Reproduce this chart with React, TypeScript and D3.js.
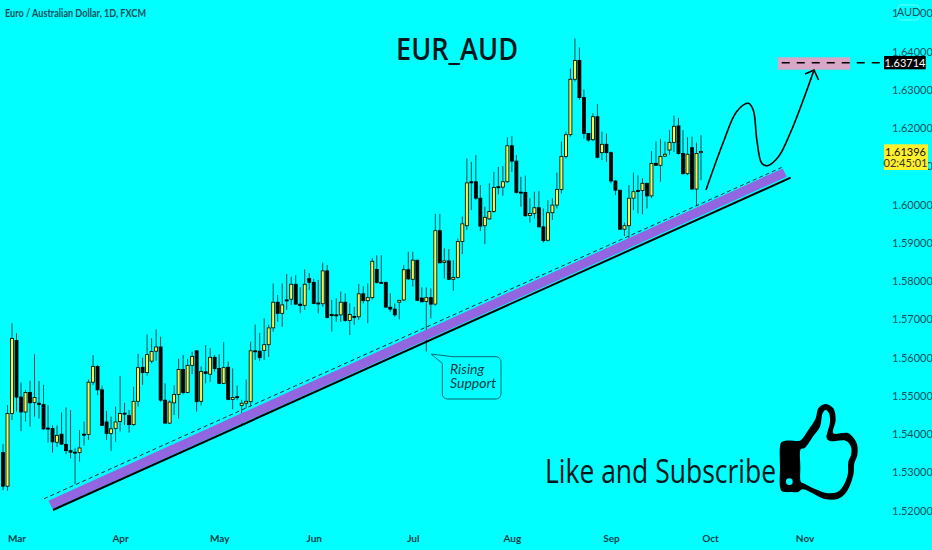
import { axisBottom, axisRight, curveCatmullRom, curveCatmullRomClosed, format, line, scaleLinear, select } from "d3";
import { useEffect, useRef } from "react";

const width = 932;
const height = 550;

const opens = [
  1.5352, 1.5264, 1.5454, 1.5645, 1.5497, 1.5458, 1.5509, 1.5483, 1.5481, 1.5478,
  1.5416, 1.5415, 1.5379, 1.54, 1.5373, 1.5357, 1.5353, 1.5352, 1.54, 1.5399,
  1.5536, 1.5577, 1.5516, 1.5432, 1.5402, 1.5415, 1.5433, 1.5455, 1.5449, 1.5425,
  1.5486, 1.5575, 1.5561, 1.5591, 1.5617, 1.5628, 1.5489, 1.5429, 1.5482, 1.5504,
  1.5569, 1.5509, 1.558, 1.5618, 1.5486, 1.5563, 1.5557, 1.5601, 1.5572, 1.5533,
  1.5575, 1.5491, 1.5498, 1.5475, 1.5481, 1.5485, 1.5618, 1.5617, 1.5619, 1.5634,
  1.5678, 1.5745, 1.5716, 1.5751, 1.5753, 1.5792, 1.574, 1.5737, 1.5807, 1.5797,
  1.5743, 1.5741, 1.5827, 1.5713, 1.5712, 1.5712, 1.5745, 1.5697, 1.5708, 1.5707,
  1.5767, 1.5749, 1.5757, 1.5831, 1.5797, 1.5797, 1.5732, 1.5727, 1.5745, 1.5751,
  1.583, 1.5805, 1.5855, 1.5756, 1.5747, 1.5757, 1.574, 1.5932, 1.5849, 1.5853,
  1.5805, 1.581, 1.5904, 1.5945, 1.606, 1.606, 1.6017, 1.5945, 1.5963, 1.5982,
  1.6047, 1.6046, 1.606, 1.6154, 1.6114, 1.6033, 1.6032, 1.5972, 1.5977, 1.5992,
  1.5942, 1.5907, 1.5979, 1.5999, 1.604, 1.6126, 1.6183, 1.6328, 1.6377, 1.628,
  1.6186, 1.617, 1.623, 1.6136, 1.6158, 1.6136, 1.6062, 1.6038, 1.5936, 1.5945,
  1.6017, 1.6037, 1.6037, 1.6056, 1.6023, 1.6108, 1.6103, 1.6127, 1.6143, 1.6163,
  1.6206, 1.6134, 1.6081, 1.6149, 1.6041, 1.6136,
];

const highs = [
  1.5374, 1.5476, 1.569, 1.5664, 1.5535, 1.5516, 1.554, 1.5609, 1.5539, 1.5529,
  1.5476, 1.5423, 1.5423, 1.5457, 1.547, 1.5463, 1.5363, 1.5411, 1.5433, 1.5543,
  1.5607, 1.5581, 1.5527, 1.5461, 1.5446, 1.5472, 1.5552, 1.5482, 1.5463, 1.5524,
  1.561, 1.56, 1.5661, 1.5651, 1.5674, 1.5655, 1.5533, 1.5489, 1.5528, 1.5597,
  1.5607, 1.5597, 1.5616, 1.562, 1.5577, 1.5633, 1.5625, 1.5607, 1.5609, 1.5641,
  1.559, 1.5572, 1.5527, 1.549, 1.5543, 1.5642, 1.5687, 1.5665, 1.5703, 1.5686,
  1.5794, 1.5764, 1.5794, 1.5819, 1.5812, 1.5816, 1.5784, 1.5831, 1.5821, 1.5806,
  1.5803, 1.5849, 1.5842, 1.5751, 1.5755, 1.5773, 1.5768, 1.5742, 1.5733, 1.5793,
  1.5787, 1.5794, 1.586, 1.5868, 1.5868, 1.5799, 1.5768, 1.5742, 1.5751, 1.5842,
  1.5877, 1.5877, 1.5855, 1.5784, 1.5784, 1.5781, 1.5976, 1.5976, 1.5886, 1.5884,
  1.5855, 1.5912, 1.5969, 1.6121, 1.6112, 1.613, 1.6051, 1.5995, 1.6056, 1.6086,
  1.6099, 1.6101, 1.6176, 1.6179, 1.613, 1.6073, 1.6076, 1.6017, 1.6034, 1.6036,
  1.599, 1.6012, 1.6017, 1.6084, 1.6165, 1.6191, 1.6356, 1.6435, 1.6411, 1.6301,
  1.6186, 1.6239, 1.6263, 1.6191, 1.6186, 1.6139, 1.6064, 1.6038, 1.5953, 1.6051,
  1.6084, 1.6077, 1.6069, 1.6057, 1.614, 1.6165, 1.6172, 1.6165, 1.6195, 1.6233,
  1.6227, 1.6195, 1.6176, 1.6178, 1.6163, 1.6182,
];

const lows = [
  1.5254, 1.5252, 1.5437, 1.5459, 1.5408, 1.5433, 1.542, 1.5446, 1.5441, 1.5411,
  1.5378, 1.5352, 1.5367, 1.5372, 1.5348, 1.5337, 1.527, 1.5328, 1.537, 1.5385,
  1.5529, 1.5502, 1.5421, 1.5385, 1.5356, 1.538, 1.5407, 1.5424, 1.5404, 1.5421,
  1.5472, 1.5529, 1.5553, 1.5585, 1.5592, 1.5485, 1.5428, 1.5427, 1.545, 1.5441,
  1.5504, 1.5507, 1.5557, 1.5459, 1.5475, 1.5533, 1.5537, 1.5564, 1.5531, 1.5531,
  1.5489, 1.5465, 1.5489, 1.5421, 1.5468, 1.5472, 1.5594, 1.5591, 1.5594, 1.5602,
  1.5668, 1.5694, 1.5681, 1.5725, 1.5738, 1.5738, 1.5716, 1.5725, 1.5777, 1.574,
  1.5716, 1.5733, 1.5703, 1.5668, 1.5694, 1.5694, 1.5694, 1.5659, 1.5686, 1.5699,
  1.5742, 1.569, 1.5752, 1.5794, 1.5794, 1.5731, 1.572, 1.5707, 1.57, 1.5748,
  1.5803, 1.5786, 1.5748, 1.5746, 1.5616, 1.5703, 1.5736, 1.5847, 1.5807, 1.5803,
  1.5775, 1.5807, 1.5871, 1.5934, 1.5986, 1.6012, 1.5931, 1.5897, 1.596, 1.5979,
  1.6027, 1.6023, 1.6057, 1.6086, 1.6029, 1.5995, 1.5968, 1.5953, 1.5964, 1.5941,
  1.5901, 1.5904, 1.596, 1.599, 1.6029, 1.6121, 1.6178, 1.6322, 1.6274, 1.6173,
  1.6165, 1.6166, 1.6121, 1.6117, 1.6112, 1.6056, 1.6025, 1.5934, 1.5918, 1.5909,
  1.5986, 1.5977, 1.5975, 1.599, 1.6017, 1.6101, 1.606, 1.6125, 1.613, 1.6138,
  1.6131, 1.6079, 1.6077, 1.6038, 1.5997, 1.6064,
];

const closes = [
  1.5264, 1.5454, 1.565, 1.5497, 1.5458, 1.5509, 1.5482, 1.5496, 1.5478, 1.5414,
  1.5414, 1.538, 1.5397, 1.5374, 1.5357, 1.5353, 1.5352, 1.5364, 1.5398, 1.5536,
  1.5577, 1.5516, 1.5423, 1.5402, 1.5414, 1.5432, 1.5454, 1.5453, 1.5425, 1.5486,
  1.5574, 1.5561, 1.5608, 1.5616, 1.5628, 1.5489, 1.5429, 1.5484, 1.5504, 1.5569,
  1.5509, 1.558, 1.5603, 1.5485, 1.5564, 1.5559, 1.5601, 1.5572, 1.5533, 1.5574,
  1.5491, 1.5496, 1.5496, 1.5481, 1.5486, 1.5618, 1.5616, 1.56, 1.5634, 1.5678,
  1.5745, 1.5716, 1.5738, 1.5749, 1.5792, 1.574, 1.5736, 1.5792, 1.5797, 1.5742,
  1.5741, 1.5827, 1.5705, 1.571, 1.5711, 1.5745, 1.5697, 1.5713, 1.5706, 1.5767,
  1.5749, 1.5757, 1.5852, 1.5797, 1.5795, 1.5732, 1.5727, 1.5712, 1.575, 1.583,
  1.5806, 1.5855, 1.575, 1.5746, 1.5757, 1.574, 1.5932, 1.5848, 1.5853, 1.5805,
  1.581, 1.5904, 1.595, 1.6057, 1.6057, 1.6017, 1.5944, 1.5967, 1.5982, 1.6045,
  1.6045, 1.606, 1.6154, 1.6114, 1.6032, 1.6031, 1.5971, 1.5977, 1.5992, 1.5942,
  1.5906, 1.5979, 1.5999, 1.604, 1.6126, 1.6183, 1.6328, 1.6377, 1.628, 1.6186,
  1.6169, 1.623, 1.6124, 1.6158, 1.6136, 1.6062, 1.6038, 1.5936, 1.5945, 1.6017,
  1.6034, 1.6035, 1.6056, 1.6023, 1.6108, 1.6103, 1.6126, 1.6132, 1.6163, 1.6205,
  1.6134, 1.6081, 1.6132, 1.6041, 1.6134, 1.6139,
];

const priceTicks = [1.52, 1.53, 1.54, 1.55, 1.56, 1.57, 1.58, 1.59, 1.6, 1.61, 1.62, 1.63, 1.64, 1.65];
const monthLabels = ["Mar", "Apr", "May", "Jun", "Jul", "Aug", "Sep", "Oct", "Nov"];
const monthBars = [3, 26, 48, 69, 91, 113, 135, 157, 178];

const lastPrice = 1.61396;
const targetPrice = 1.63714;
const targetTop = 1.63854;
const targetBottom = 1.63529;
const targetBars = [172.04, 188.1];

// bar index, price
const supportLine: [number, number][] = [[11.1, 1.52018], [174.9, 1.60706]];
const dashedLine: [number, number][] = [[9.1, 1.52312], [172.9, 1.60973]];
const supportBand: [number, number][] = [
  [10.06, 1.52261],
  [11.04, 1.52042],
  [174.04, 1.60729],
  [173.15, 1.60949],
];
const forecast: [number, number][] = [
  [156.1, 1.60384], [160, 1.61647], [162.9, 1.62431], [165.5, 1.62651],
  [166.6, 1.62476], [167.4, 1.61692], [168.5, 1.61082], [169.7, 1.6102],
  [172.2, 1.61255], [174.8, 1.61867], [177.7, 1.62737], [180.1, 1.63522],
];
const forecastHead: [number, number][] = [[178.1, 1.63417], [180.1, 1.63522], [181.1, 1.6326]];
const calloutTip: [number, number] = [95.05, 1.56094];

const x = scaleLinear().domain([0, 155]).range([3, 701]);
const y = scaleLinear().domain([1.64, 1.52]).range([51.7, 510.7]);

const toPath = line<[number, number]>()
  .x((d) => x(d[0]))
  .y((d) => y(d[1]));

const axisFont = "Lato, 'Noto Sans', sans-serif";
const axisColor = "#14505c";

// thumb icon, drawn on its own 270x315 grid
const thumbOuter: [number, number][] = [
  [15, 200], [15, 140], [19, 127], [32, 122], [55, 122], [75, 122], [100, 90], [122, 55], [130, 25],
  [150, 12], [175, 25], [182, 60], [175, 100], [220, 100], [245, 130], [247, 165], [238, 190], [235, 225],
  [215, 275], [190, 296], [150, 297], [82, 268], [70, 276], [50, 276], [30, 276], [19, 272], [15, 260],
];
const thumbInner: [number, number][] = [
  [76, 200], [76, 150], [80, 146], [90, 143], [115, 108], [135, 80], [143, 40], [152, 30], [162, 40],
  [165, 65], [155, 115], [165, 123], [212, 122], [228, 140], [228, 165], [220, 185], [218, 225], [200, 265],
  [185, 277], [150, 278], [85, 250], [78, 246], [76, 240],
];

export default function App() {
  const priceAxisRef = useRef<SVGGElement>(null);
  const timeAxisRef = useRef<SVGGElement>(null);

  useEffect(() => {
    const priceAxis = select(priceAxisRef.current);
    priceAxis.call(
      axisRight(y).tickValues(priceTicks).tickFormat(format(".5f") as any).tickSize(0).tickPadding(0) as any
    );
    priceAxis.select(".domain").remove();
    priceAxis.selectAll("text").attr("fill", axisColor).attr("font-size", 11).attr("font-family", axisFont);

    const timeAxis = select(timeAxisRef.current);
    timeAxis.call(
      axisBottom(x)
        .tickValues(monthBars)
        .tickFormat((_, i) => monthLabels[i])
        .tickSize(0)
        .tickPadding(0) as any
    );
    timeAxis.select(".domain").remove();
    timeAxis
      .selectAll("text")
      .attr("fill", "#0d3f4a")
      .attr("font-size", 10)
      .attr("font-weight", 700)
      .attr("font-family", axisFont);
  }, []);

  const bodyWidth = 3;
  const thumbLine = line().curve(curveCatmullRomClosed.alpha(0.5));
  const thumbPath = `${thumbLine(thumbOuter)}${thumbLine(thumbInner)}`;

  const [tipX, tipY] = [x(calloutTip[0]), y(calloutTip[1])];

  return (
    <svg
      width={width}
      height={height}
      style={{ position: "absolute", left: 0, top: 0, display: "block", background: "#00ffff" }}
    >
      <text x={5} y={17} fontSize={11.5} fontWeight={700} fontFamily={axisFont} fill={axisColor} textLength={141} lengthAdjust="spacingAndGlyphs">
        Euro / Australian Dollar, 1D, FXCM
      </text>

      {opens.map((open, i) => {
        const up = closes[i] >= open;
        const top = y(Math.max(open, closes[i]));
        const bottom = y(Math.min(open, closes[i]));
        return (
          <g key={i}>
            <line x1={x(i)} x2={x(i)} y1={y(highs[i])} y2={y(lows[i])} stroke="#0b4f58" strokeWidth={1} />
            <rect
              x={x(i) - bodyWidth / 2}
              y={top}
              width={bodyWidth}
              height={Math.max(bottom - top, 1)}
              fill={up ? "#fff24a" : "#000"}
              stroke="#000"
              strokeWidth={0.8}
            />
          </g>
        );
      })}

      <path d={toPath(supportBand) + "Z"} fill="#9266e0" />
      <path d={toPath(dashedLine) as string} stroke="#0a2a30" strokeWidth={1} strokeDasharray="4 3" fill="none" />
      <path d={toPath(supportLine) as string} stroke="#000" strokeWidth={2} fill="none" />

      <rect
        x={x(targetBars[0])}
        y={y(targetTop)}
        width={x(targetBars[1]) - x(targetBars[0])}
        height={y(targetBottom) - y(targetTop)}
        fill="#d8a6c6"
      />
      <line
        x1={x(targetBars[0]) + 4}
        x2={884}
        y1={y(targetPrice)}
        y2={y(targetPrice)}
        stroke="#000"
        strokeWidth={1.5}
        strokeDasharray="8 7"
      />

      <path
        d={line<[number, number]>().x((d) => x(d[0])).y((d) => y(d[1])).curve(curveCatmullRom)(forecast) as string}
        fill="none"
        stroke="#000"
        strokeWidth={1.6}
      />
      <path d={toPath(forecastHead) as string} fill="none" stroke="#000" strokeWidth={1.6} />

      <path
        d={`M${tipX},${tipY} L453.3,356.7 H496 a5,5 0 0 1 5,5 V394 a5,5 0 0 1 -5,5 H447.3 a5,5 0 0 1 -5,-5 V363.3 Z`}
        fill="#00ffff"
        stroke="#0b6a75"
        strokeWidth={1}
      />
      <text x={450} y={374.3} fontSize={14} fontStyle="italic" fontFamily={axisFont} fill="#0b3a44">Rising</text>
      <text x={450} y={388.4} fontSize={14} fontStyle="italic" fontFamily={axisFont} fill="#0b3a44">Support</text>

      <text x={396} y={60} fontSize={31} fontWeight={600} fontFamily="'Open Sans', sans-serif" fill="#04161a" textLength={122} lengthAdjust="spacingAndGlyphs">
        EUR_AUD
      </text>
      <text x={545} y={483} fontSize={32} fontFamily="'Open Sans', sans-serif" fill="#04161a" textLength={231} lengthAdjust="spacingAndGlyphs">
        Like and Subscribe
      </text>

      <g transform="translate(775,400) scale(0.3333)">
        <path d={thumbPath} fill="#000" fillRule="evenodd" />
        <circle cx={43} cy={245} r={10} fill="#00ffff" />
      </g>

      <g ref={priceAxisRef} transform="translate(892,0)" />
      <g ref={timeAxisRef} transform="translate(0,535)" />

      <rect x={898} y={5} width={21} height={15} rx={3} fill="#00ffff" stroke="#66ffff" strokeWidth={1} />
      <text x={908.5} y={16} fontSize={11} fontFamily={axisFont} textAnchor="middle" fill={axisColor}>AUD</text>

      <rect x={884} y={56} width={41.7} height={13.3} fill="#000" />
      <text x={905} y={66.7} fontSize={11} fontFamily={axisFont} textAnchor="middle" fill="#fff">
        {format(".5f")(targetPrice)}
      </text>

      <rect x={884} y={144.3} width={44} height={25.7} fill="#fff02e" />
      <text x={905.5} y={155.6} fontSize={11} fontFamily={axisFont} textAnchor="middle" fill="#111">
        {format(".5f")(lastPrice)}
      </text>
      <text x={905.5} y={167} fontSize={11} fontFamily={axisFont} textAnchor="middle" fill="#333">
        02:45:01
      </text>
    </svg>
  );
}
